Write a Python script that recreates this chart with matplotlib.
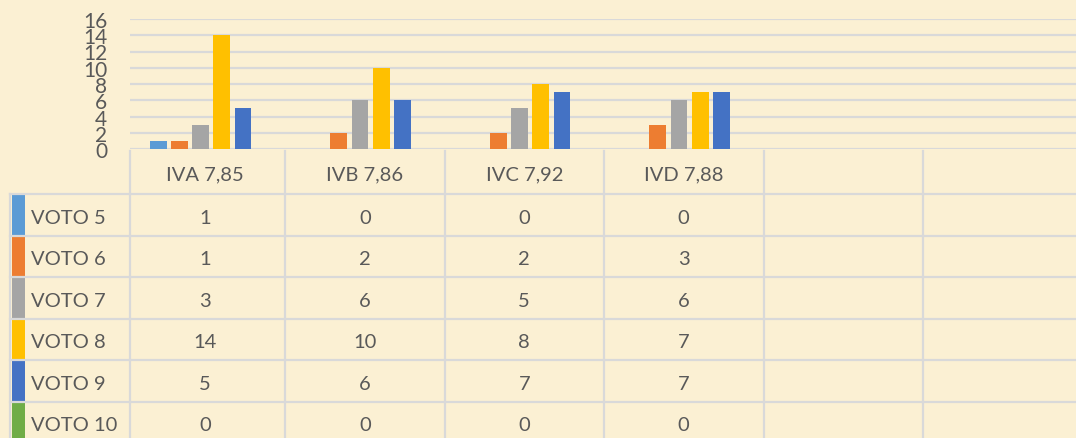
import matplotlib.pyplot as plt
import numpy as np

# ---- data ----
categories = ["IVA 7,85", "IVB 7,86", "IVC 7,92", "IVD 7,88", "", ""]
series = ["VOTO 5", "VOTO 6", "VOTO 7", "VOTO 8", "VOTO 9", "VOTO 10"]
voto5 = [1, 0, 0, 0]
voto6 = [1, 2, 2, 3]
voto7 = [3, 6, 5, 6]
voto8 = [14, 10, 8, 7]
voto9 = [5, 6, 7, 7]
voto10 = [0, 0, 0, 0]
values = [voto5, voto6, voto7, voto8, voto9, voto10]
colors = ["#5B9BD5", "#ED7D31", "#A5A5A5", "#FFC000", "#4472C4", "#70AD47"]
yticks = [0, 2, 4, 6, 8, 10, 12, 14, 16]

bg = "#FBF0D3"
grid = "#D9D9D9"
txt = "#595959"
plt.rcParams['font.family'] = ['Lato', 'DejaVu Sans']

W, H = 1076, 439
fig = plt.figure(figsize=(W / 100, H / 100), dpi=100)
fig.set_facecolor(bg)

# layout in pixels
c0 = 125.5        # where category 0 starts
colw = 159.5      # width of one category column
plot_left = 130   # plot area left edge
y_top, y_zero = 20, 150
ncat = len(categories)
right = c0 + colw * ncat
lo = (plot_left - c0) / colw

ax = fig.add_axes([plot_left / W, 1 - y_zero / H, (right - plot_left) / W, (y_zero - y_top) / H])
ax.set_facecolor('none')
ax.set_xlim(lo, ncat)
ax.set_ylim(0, 16)
ax.set_yticks(yticks)
ax.set_xticks([])
for s in ax.spines.values():
    s.set_visible(False)
ax.yaxis.grid(True, color=grid, linewidth=1.6)
ax.set_axisbelow(True)
ax.tick_params(axis='y', length=0, pad=16.5, labelsize=15, labelcolor=txt)

step = 0.133
bw = 0.106
shift = 0.037
xc = np.arange(4) + 0.5 + shift
for j, (vals, c) in enumerate(zip(values, colors)):
    ax.bar(xc + (j - 2.5) * step, vals, width=bw, color=c, zorder=3)

# ---- data table ----
tab = fig.add_axes([plot_left / W, 0, (right - plot_left) / W, (H - y_zero) / H])
tab.set_facecolor('none')
tab.axis('off')
tab.set_xlim(lo, ncat)
tab.set_ylim(H, y_zero)

head_bot = 195
rowh = 41.5
leg_left = (10 - c0) / colw
lw = 1.6
dy = 2.5
fs = 14.5

# header row
for i, lab in enumerate(categories):
    tab.text(i + 0.5, (y_zero + head_bot) / 2 + dy, lab, ha='center', va='center',
             fontsize=fs, color=txt)
for xv in [lo] + list(range(1, ncat + 1)):
    tab.plot([xv, xv], [y_zero + 2, H], color=grid, lw=lw, clip_on=False)
tab.plot([leg_left, leg_left], [head_bot, H], color=grid, lw=lw, clip_on=False)

for r, (name, c) in enumerate(zip(series, colors)):
    top = head_bot + r * rowh
    tab.plot([leg_left, ncat], [top, top], color=grid, lw=lw, clip_on=False)
    tab.fill_between([(12 - c0) / colw, (25 - c0) / colw], top + 1, top + rowh - 1,
                     color=c, lw=0, clip_on=False)
    tab.text((31 - c0) / colw, top + rowh / 2 + dy, name, ha='left', va='center',
             fontsize=fs, color=txt, clip_on=False)
    for i, v in enumerate(values[r]):
        tab.text(i + 0.5, top + rowh / 2 + dy, str(v), ha='center', va='center',
                 fontsize=fs, color=txt)

fig.savefig("out.png", dpi=100, facecolor=bg)
